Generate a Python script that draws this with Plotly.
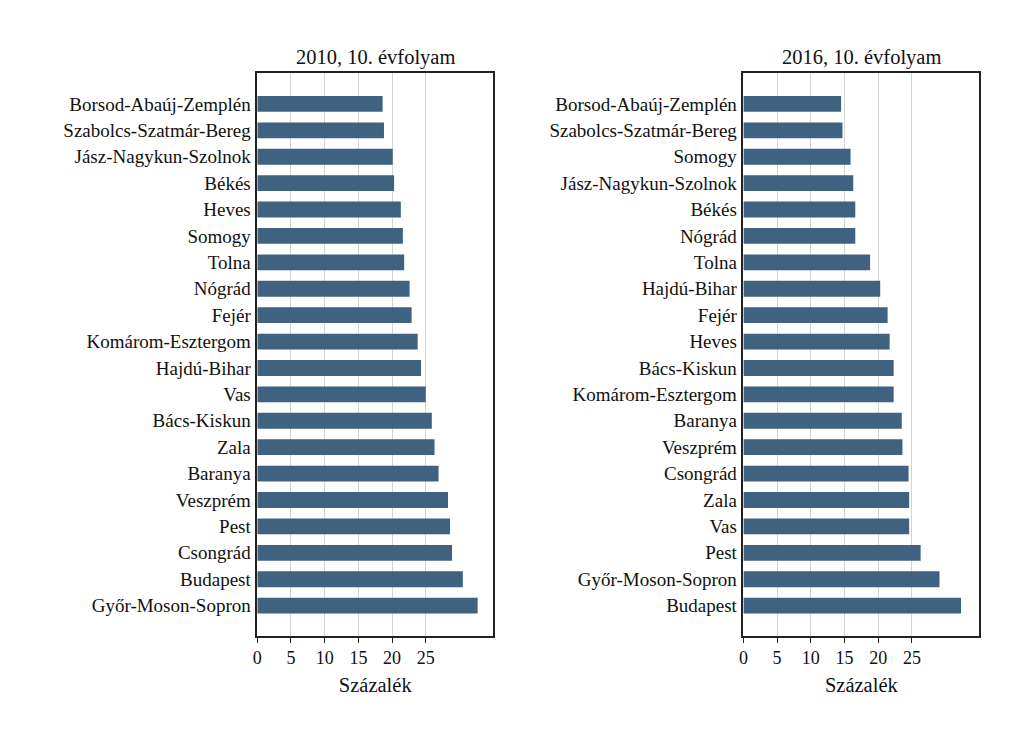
import plotly.graph_objects as go
from plotly.subplots import make_subplots

cats_2010 = ["Borsod-Abaúj-Zemplén", "Szabolcs-Szatmár-Bereg", "Jász-Nagykun-Szolnok", "Békés",
             "Heves", "Somogy", "Tolna", "Nógrád", "Fejér", "Komárom-Esztergom", "Hajdú-Bihar",
             "Vas", "Bács-Kiskun", "Zala", "Baranya", "Veszprém", "Pest", "Csongrád", "Budapest",
             "Győr-Moson-Sopron"]
vals_2010 = [18.6, 18.8, 20.1, 20.3, 21.3, 21.6, 21.8, 22.6, 22.9, 23.8, 24.3, 25.0, 25.9, 26.3,
             26.9, 28.3, 28.6, 28.9, 30.5, 32.7]

cats_2016 = ["Borsod-Abaúj-Zemplén", "Szabolcs-Szatmár-Bereg", "Somogy", "Jász-Nagykun-Szolnok",
             "Békés", "Nógrád", "Tolna", "Hajdú-Bihar", "Fejér", "Heves", "Bács-Kiskun",
             "Komárom-Esztergom", "Baranya", "Veszprém", "Csongrád", "Zala", "Vas", "Pest",
             "Győr-Moson-Sopron", "Budapest"]
vals_2016 = [14.5, 14.7, 15.9, 16.3, 16.6, 16.6, 18.8, 20.3, 21.4, 21.7, 22.3, 22.3, 23.5, 23.6,
             24.5, 24.6, 24.6, 26.3, 29.1, 32.3]

titles = ["2010, 10. évfolyam", "2016, 10. évfolyam"]
tick_vals = [0, 5, 10, 15, 20, 25]
tick_text = ["0", "5", "10", "15", "20", "25"]
x_title = "Százalék"

BAR = "#3e6280"
FONT = "Liberation Serif, Times New Roman, serif"

fig = make_subplots(rows=1, cols=2)
for i, (c, v) in enumerate([(cats_2010, vals_2010), (cats_2016, vals_2016)]):
    fig.add_trace(go.Bar(x=v, y=c, orientation="h", marker=dict(color=BAR, line=dict(width=0)),
                         width=0.6, showlegend=False), row=1, col=i + 1)

OX, OY = 9, 7
doms = [[(254.5 - OX) / 1024, (491.5 - OX) / 1024], [(743 - OX) / 1024, (980 - OX) / 1024]]
ydom = [1 - (635 - OY) / 750, 1 - (72 - OY) / 750]
for i in range(2):
    xa = "xaxis" if i == 0 else "xaxis2"
    ya = "yaxis" if i == 0 else "yaxis2"
    fig.layout[xa].update(domain=doms[i], range=[0, 35], tickvals=tick_vals, ticktext=tick_text,
                          showgrid=True, gridcolor="#d4d4d4", gridwidth=1,
                          showline=True, linecolor="#222222", linewidth=1.5, mirror=True,
                          ticks="outside", ticklen=5, tickcolor="#222222",
                          tickfont=dict(family=FONT, size=18, color="#111111"),
                          title=dict(text=x_title, font=dict(family=FONT, size=20.5, color="#111111"),
                                     standoff=10),
                          zeroline=False)
    fig.layout[ya].update(domain=ydom, range=[19.5 + 0.65, -0.5 - 0.67], type="category",
                          showline=True, linecolor="#222222", linewidth=1.5, mirror=True,
                          ticks="", showgrid=False,
                          tickfont=dict(family=FONT, size=19, color="#111111"),
                          ticklabelstandoff=1)
    fig.add_annotation(text=titles[i], x=(doms[i][0] + doms[i][1]) / 2, y=ydom[1],
                       xref="paper", yref="paper", xanchor="center", yanchor="bottom", yshift=2,
                       showarrow=False, font=dict(family=FONT, size=20.5, color="#111111"))

fig.update_layout(width=1024, height=750, margin=dict(l=0, r=0, t=0, b=0),
                  paper_bgcolor="white", plot_bgcolor="white", bargap=0.4)
fig.write_html("out.html")
